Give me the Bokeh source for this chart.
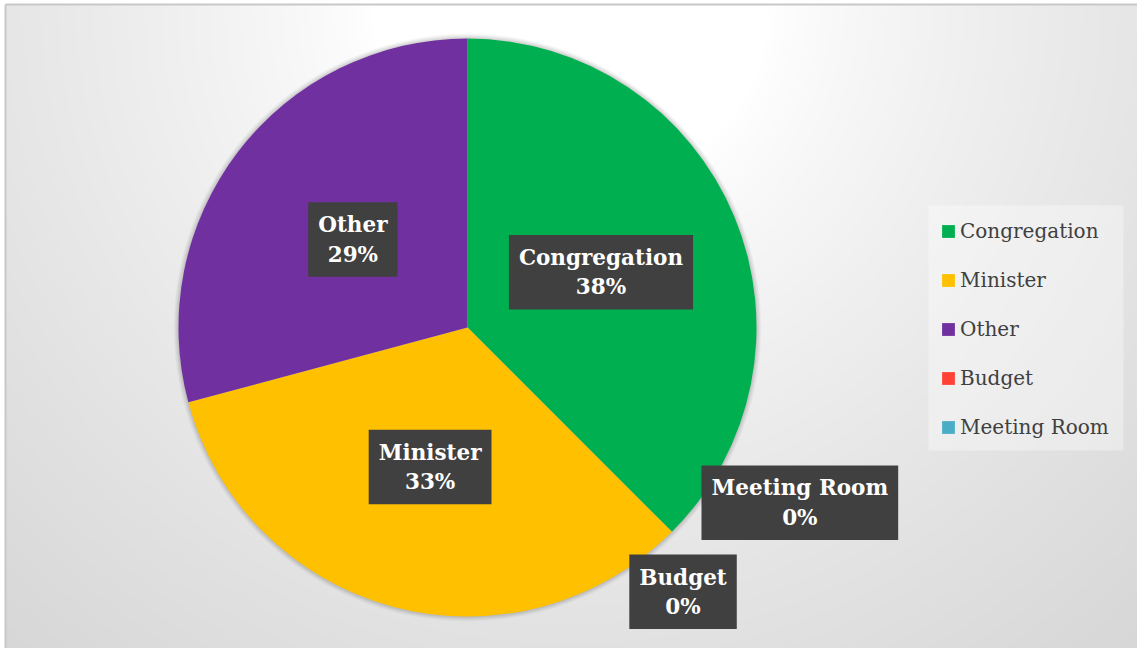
import numpy as np
from bokeh.plotting import figure
from bokeh.models import ColumnDataSource, Range1d, Legend, LegendItem, Label
from bokeh.embed import file_html
from bokeh.resources import INLINE

# ---- data ----
categories = ["Congregation", "Minister", "Other", "Budget", "Meeting Room"]
values = [9, 8, 7, 0, 0]
colors = ["#00B050", "#FFC000", "#7030A0", "#FF4136", "#4BACC6"]

# ---- layout constants ----
W, H = 1137, 648
CX, CY = 467, H - 327
R = 289
AREA_L, AREA_T = 5, 4        # chart area top-left corner (pixels)
LEG_BOX = (928, 1123, 205, 450)   # legend panel left, right, top, bottom (pixels)
LABEL_FONT = "DejaVu Serif"
# outside placement for zero-size slices: (degrees clockwise from top, radius factor)
outside_place = {"Budget": (140.8, 1.18), "Meeting Room": (117.8, 1.30)}

p = figure(width=W, height=H, x_range=Range1d(0, W), y_range=Range1d(0, H),
           x_axis_type=None, y_axis_type=None, output_backend="svg",
           toolbar_location=None, min_border=0)
p.grid.visible = False
p.outline_line_color = None
p.border_fill_color = "white"
p.background_fill_color = "white"

# ---- background radial gradient (chart area) ----
s = 2
x0, ytop = AREA_L, H - AREA_T
ww, hh = (W - x0) // s + 1, ytop // s + 1
xs = x0 + (np.arange(ww) + 0.5) * s
ys = (np.arange(hh) + 0.5) * s
X, Y = np.meshgrid(xs, ys)
d = np.hypot(X - 570, (H - Y) - 0)
t = np.clip((d - 200) / 660, 0, 1) ** 0.8
g = (255 - 40 * t).astype(np.uint32)
img = (np.uint32(255) << 24) | (g << 16) | (g << 8) | g
p.image_rgba(image=[img], x=x0, y=ytop - hh * s, dw=ww * s, dh=hh * s)
p.segment(x0=[x0, x0], y0=[0, ytop], x1=[x0, W], y1=[ytop, ytop],
          line_color="#C8C8C8", line_width=2)

# legend panel
p.quad(left=LEG_BOX[0], right=LEG_BOX[1], top=H - LEG_BOX[2], bottom=H - LEG_BOX[3],
       fill_color="white", fill_alpha=0.35, line_color=None)

# ---- soft shadow around pie ----
for k, a in [(5, 0.025), (4, 0.03), (3, 0.035), (2, 0.04), (1, 0.05)]:
    p.circle(x=CX, y=CY, radius=R + k, fill_color="black", fill_alpha=a, line_color=None)

# ---- pie ----
total = float(sum(values))
cum = np.cumsum([0] + values) / total
start = np.pi / 2 - 2 * np.pi * cum[:-1]
end = np.pi / 2 - 2 * np.pi * cum[1:]
nz = [i for i, v in enumerate(values) if v > 0]
src = ColumnDataSource(dict(cat=[categories[i] for i in nz], color=[colors[i] for i in nz],
                            start=start[nz], end=end[nz]))
p.wedge(x=CX, y=CY, radius=R, start_angle="start", end_angle="end",
        direction="clock", fill_color="color", line_color=None, source=src)

# legend proxy (off-screen swatches, one per category)
leg_src = ColumnDataSource(dict(cat=categories, color=colors,
                                l=[-50] * len(categories), r=[-40] * len(categories),
                                b=[-50] * len(categories), t=[-40] * len(categories)))
proxy = p.quad(left="l", right="r", bottom="b", top="t", fill_color="color",
               line_color=None, source=leg_src)

# ---- data labels ----
for i, (c, v) in enumerate(zip(categories, values)):
    pct = int(round(100 * v / total))
    if c in outside_place:
        deg, f = outside_place[c]
        ang = np.pi / 2 - np.deg2rad(deg)
    else:
        ang = (start[i] + end[i]) / 2
        f = 0.5
    lx = CX + f * R * np.cos(ang)
    ly = CY + f * R * np.sin(ang)
    txt = f"{c}\n{pct}%"
    common = dict(x=lx, y=ly, text=txt, text_align="center", text_baseline="middle",
                  text_font=LABEL_FONT, text_font_style="bold", text_font_size="21.5px",
                  text_line_height=1.18, padding=10)
    p.add_layout(Label(x_offset=3, y_offset=-4, text_color="black", text_alpha=0,
                       background_fill_color="black", background_fill_alpha=0.3, **common))
    p.add_layout(Label(text_color="white", background_fill_color="#404040", **common))

# ---- legend ----
items = [LegendItem(label=c, renderers=[proxy], index=i) for i, c in enumerate(categories)]
legend = Legend(items=items, location=(940, H - 441), margin=0, padding=12,
                glyph_width=16, glyph_height=16, label_height=28, spacing=21,
                label_standoff=4, label_text_font=LABEL_FONT, label_text_font_size="20px",
                label_text_color="#404040", background_fill_alpha=0,
                border_line_color=None)
p.add_layout(legend)

open("out.html", "w").write(file_html(p, INLINE))
